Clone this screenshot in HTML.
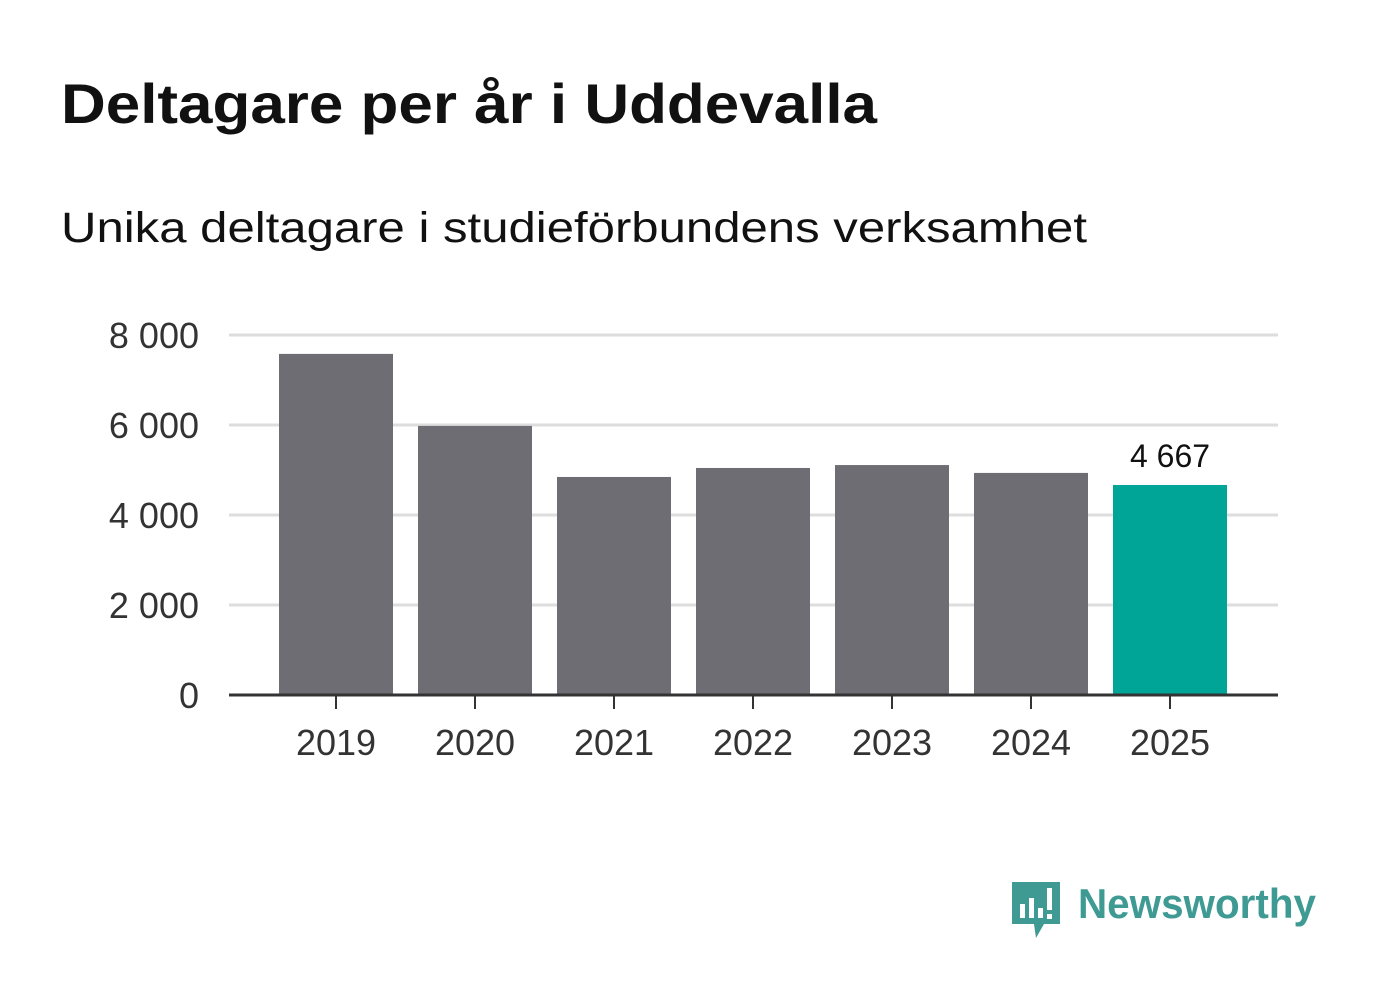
<!DOCTYPE html>
<html><head><meta charset="utf-8"><style>
body{margin:0;background:#fff;width:1382px;height:999px;overflow:hidden;font-family:"Liberation Sans",sans-serif;}
</style></head><body>
<svg width="1382" height="999">
<text x="61" y="123" font-size="56" font-weight="bold" fill="#111" textLength="816" lengthAdjust="spacingAndGlyphs">Deltagare per år i Uddevalla</text>
<text x="61" y="242" font-size="43" fill="#111" textLength="1026" lengthAdjust="spacingAndGlyphs">Unika deltagare i studieförbundens verksamhet</text>
<g id="grid"></g><g id="bars"></g><g id="xaxis"></g>
<g>
<path d="M1012 882 h48 v42 h-16 l-8 14 l-2 -14 h-22 z" fill="#3f9a94"/>
<rect x="1020" y="904" width="5" height="14" fill="#fff"/><rect x="1029" y="898" width="5" height="20" fill="#fff"/><rect x="1038" y="908" width="5" height="10" fill="#fff"/><rect x="1047" y="888" width="5" height="22" fill="#fff"/><rect x="1047" y="914" width="5" height="5" fill="#fff"/>
<text x="1078" y="918" font-size="42" font-weight="bold" fill="#3f9a94" textLength="238" lengthAdjust="spacingAndGlyphs">Newsworthy</text>
</g>
</svg>
<script>
const years=["2019","2020","2021","2022","2023","2024","2025"];
const values=[7580,5980,4845,5045,5110,4935,4667];
const yTicks=[0,2000,4000,6000,8000];
const ns="http://www.w3.org/2000/svg";
const y=v=>695-v*0.045, x=i=>336+i*139;
function mk(t,a,p){const e=document.createElementNS(ns,t);for(const k in a)e.setAttribute(k,a[k]);p.appendChild(e);return e;}
const fmt=v=>v.toLocaleString("en").replace(/,/g," ");
const g=document.getElementById("grid"),b=document.getElementById("bars"),xa=document.getElementById("xaxis");
yTicks.forEach(v=>{
 if(v>0){const l=mk("line",{x1:229,x2:1278,y1:y(v),y2:y(v),stroke:"#ddd","stroke-width":3},g);
 
 }
 const t=mk("text",{x:199,y:y(v)+13,"text-anchor":"end","font-size":36,fill:"#333"},g);t.textContent=fmt(v);
 
 
});
values.forEach((v,i)=>{
 const r=mk("rect",{x:x(i)-57,y:y(v),width:114,height:695-y(v),fill:i==values.length-1?"#00a597":"#6e6d73"},b);
 
 
 mk("line",{x1:x(i),x2:x(i),y1:695,y2:709,stroke:"#333","stroke-width":2},xa);
 const t=mk("text",{x:x(i),y:755,"text-anchor":"middle","font-size":36,fill:"#333"},xa);t.textContent=years[i];
 
 
});
const li=values.length-1;
const lab=mk("text",{x:x(li),y:y(values[li])-18,"text-anchor":"middle","font-size":32,fill:"#111"},b);lab.textContent=fmt(values[li]);


const ax=mk("line",{x1:229,x2:1278,y1:695,y2:695,stroke:"#333","stroke-width":3},xa);


</script>
</body></html>
